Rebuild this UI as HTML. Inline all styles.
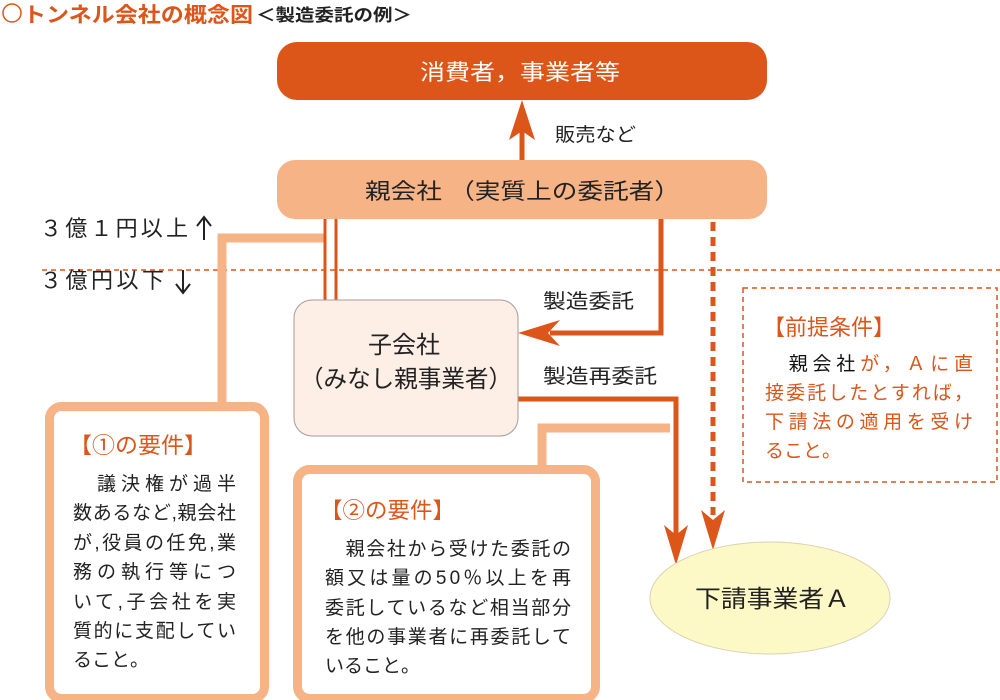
<!DOCTYPE html>
<html><head><meta charset="utf-8"><style>
html,body{margin:0;padding:0;background:#fff;}
svg{display:block;}
text{font-family:"Liberation Sans","Noto Sans CJK JP",sans-serif;}
</style></head><body>
<svg width="1000" height="700" viewBox="0 0 1000 700" xmlns="http://www.w3.org/2000/svg">
<!-- title -->
<circle cx="12" cy="13" r="9" fill="none" stroke="#dc5519" stroke-width="1.5"/>
<text x="23" y="22" font-size="21" font-weight="bold" fill="#dc5519" textLength="230" lengthAdjust="spacingAndGlyphs">トンネル会社の概念図</text>
<text x="256" y="21" font-size="17" font-weight="bold" fill="#222" textLength="156" lengthAdjust="spacingAndGlyphs">＜製造委託の例＞</text>

<!-- dashed threshold line -->
<line x1="42" y1="270" x2="1000" y2="270" stroke="#dc5519" stroke-width="1.5" stroke-dasharray="5,4"/>
<text x="40" y="236" font-size="22" fill="#222" textLength="148" lengthAdjust="spacing">３億１円以上</text>
<text x="40" y="288" font-size="22" fill="#222" textLength="124" lengthAdjust="spacing">３億円以下</text>
<path d="M204,240 V218 M197,226 L204,217 L211,226" fill="none" stroke="#222" stroke-width="2"/>
<path d="M183,270 V292 M176,284 L183,293 L190,284" fill="none" stroke="#222" stroke-width="2"/>

<!-- light connectors -->
<polyline points="325,238 222,238 222,404" fill="none" stroke="#f5b386" stroke-width="9"/>
<polyline points="670,428 542,428 542,467" fill="none" stroke="#f5b386" stroke-width="9"/>

<!-- top box -->
<rect x="277" y="42" width="490" height="58" rx="20" fill="#dc5519"/>
<text x="420" y="80" font-size="22" fill="#fff" textLength="200" lengthAdjust="spacingAndGlyphs">消費者，事業者等</text>

<!-- sales arrow -->
<line x1="522" y1="160" x2="522" y2="125" stroke="#dc5519" stroke-width="5"/>
<polygon points="522,100 509,140 522,131 535,140" fill="#dc5519"/>
<text x="555" y="141" font-size="19" fill="#222" textLength="81" lengthAdjust="spacingAndGlyphs">販売など</text>

<!-- parent box -->
<rect x="277" y="160" width="490" height="59" rx="18" fill="#f5b386"/>
<text x="365" y="199" font-size="22" fill="#222" textLength="315" lengthAdjust="spacingAndGlyphs">親会社 （実質上の委託者）</text>

<!-- double lines -->
<line x1="325" y1="219" x2="325" y2="300" stroke="#dc5519" stroke-width="3"/>
<line x1="336" y1="219" x2="336" y2="300" stroke="#dc5519" stroke-width="3"/>

<!-- manufacturing commission arrow -->
<polyline points="661,219 661,333 550,333" fill="none" stroke="#dc5519" stroke-width="5"/>
<polygon points="518,333 560,320 548,333 560,346" fill="#dc5519"/>
<text x="543" y="308" font-size="20" fill="#222" textLength="91" lengthAdjust="spacingAndGlyphs">製造委託</text>

<!-- recommission arrow -->
<polyline points="516,399 676,399 676,535" fill="none" stroke="#dc5519" stroke-width="5"/>
<polygon points="676,565 664,525 676,535 688,525" fill="#dc5519"/>
<text x="543" y="383" font-size="20" fill="#222" textLength="114" lengthAdjust="spacingAndGlyphs">製造再委託</text>

<!-- dashed arrow -->
<line x1="713" y1="222" x2="713" y2="515" stroke="#dc5519" stroke-width="5" stroke-dasharray="9,6"/>
<polygon points="713,550 701,510 713,520 725,510" fill="#dc5519"/>

<!-- child box -->
<rect x="294" y="300" width="224" height="136" rx="18" fill="#fdeee6" stroke="#a89a96" stroke-width="1"/>
<text x="368" y="353" font-size="24" fill="#222" textLength="72" lengthAdjust="spacingAndGlyphs">子会社</text>
<text x="300" y="387" font-size="24" fill="#222" textLength="212" lengthAdjust="spacingAndGlyphs">（みなし親事業者）</text>

<!-- subcontractor ellipse -->
<ellipse cx="770" cy="598" rx="120" ry="56" fill="#fdf9c6" stroke="#d8d2b0" stroke-width="1"/>
<text x="695" y="607" font-size="24" fill="#222" textLength="155" lengthAdjust="spacingAndGlyphs">下請事業者Ａ</text>

<!-- premise box -->
<rect x="743" y="288" width="254" height="194" fill="none" stroke="#dc5519" stroke-width="1.5" stroke-dasharray="5,4"/>
<text x="763" y="335" font-size="22" fill="#dc5519" textLength="132" lengthAdjust="spacingAndGlyphs">【前提条件】</text>
<text x="765" y="370" font-size="19" fill="#dc5519" textLength="208" lengthAdjust="spacing">　<tspan fill="#111">親会社</tspan>が，Ａに直</text>
<text x="765" y="399" font-size="19" fill="#dc5519" textLength="208" lengthAdjust="spacing">接委託したとすれば，</text>
<text x="765" y="428" font-size="19" fill="#dc5519" textLength="208" lengthAdjust="spacing">下請法の適用を受け</text>
<text x="765" y="457" font-size="19" fill="#dc5519">ること。</text>

<!-- box 1 -->
<rect x="49.5" y="406.5" width="215" height="292" rx="12" fill="#fff" stroke="#f5b386" stroke-width="9"/>
<text x="69" y="453" font-size="22" fill="#dc5519" textLength="138" lengthAdjust="spacingAndGlyphs">【①の要件】</text>
<g font-size="19" fill="#222">
<text x="73" y="490" textLength="163" lengthAdjust="spacing">　議決権が過半</text>
<text x="73" y="519" textLength="163" lengthAdjust="spacing">数あるなど,親会社</text>
<text x="73" y="549" textLength="163" lengthAdjust="spacing">が,役員の任免,業</text>
<text x="73" y="578" textLength="163" lengthAdjust="spacing">務の執行等につ</text>
<text x="73" y="608" textLength="163" lengthAdjust="spacing">いて,子会社を実</text>
<text x="73" y="637" textLength="163" lengthAdjust="spacing">質的に支配してい</text>
<text x="73" y="666">ること。</text>
</g>

<!-- box 2 -->
<rect x="297.5" y="469.5" width="298" height="229" rx="12" fill="#fff" stroke="#f5b386" stroke-width="9"/>
<text x="320" y="518" font-size="22" fill="#dc5519" textLength="135" lengthAdjust="spacingAndGlyphs">【②の要件】</text>
<g font-size="19" fill="#222">
<text x="325" y="555" textLength="246" lengthAdjust="spacing">　親会社から受けた委託の</text>
<text x="325" y="584" textLength="246" lengthAdjust="spacing">額又は量の50％以上を再</text>
<text x="325" y="614" textLength="246" lengthAdjust="spacing">委託しているなど相当部分</text>
<text x="325" y="643" textLength="246" lengthAdjust="spacing">を他の事業者に再委託して</text>
<text x="325" y="672">いること。</text>
</g>
</svg>
</body></html>
